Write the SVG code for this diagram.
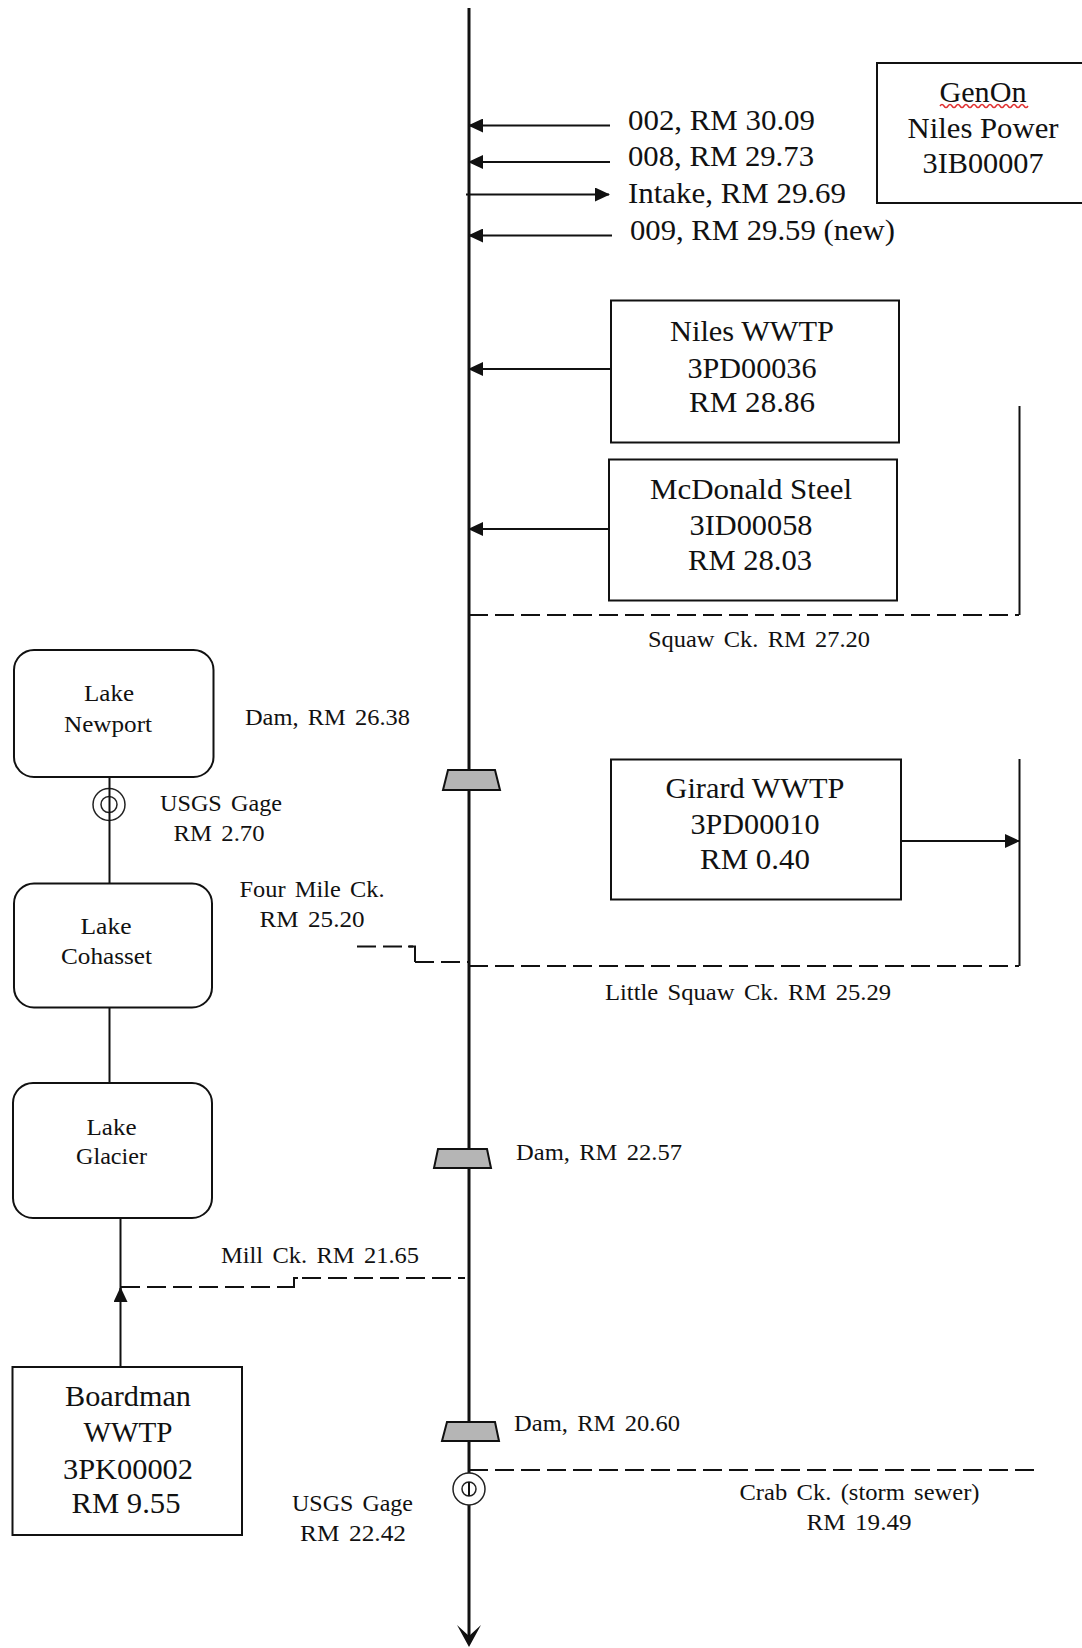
<svg xmlns="http://www.w3.org/2000/svg" width="1082" height="1648" viewBox="0 0 1082 1648">
<style>
text{font-family:"Liberation Serif","Times New Roman",serif;fill:#111;text-anchor:middle}
.st{text-anchor:start}
.b{font-size:30px}
.s{font-size:23px;word-spacing:3px}
.box{fill:#fff;stroke:#111;stroke-width:2}
.ln{fill:none;stroke:#111;stroke-width:2}
.main{fill:none;stroke:#111;stroke-width:3}
.d{fill:none;stroke:#111;stroke-width:2;stroke-dasharray:19 7}
.dam{fill:#b5b5b5;stroke:#111;stroke-width:2}
.ring{fill:#fff;stroke:#222;stroke-width:1.5}
</style>
<defs>
<marker id="a" markerWidth="15" markerHeight="14" refX="14" refY="7" orient="auto" markerUnits="userSpaceOnUse"><path d="M0 0L15 7L0 14Z" fill="#111"/></marker>
</defs>
<g id="connectors">
<path class="main" d="M469 8V1640"/>
<path d="M457 1625L469 1647L481 1625L469 1636Z" fill="#111"/>
<path class="ln" marker-end="url(#a)" d="M610 125.500H469"/>
<path class="ln" marker-end="url(#a)" d="M610 162H469"/>
<path class="ln" marker-end="url(#a)" d="M466 194.500H609"/>
<path class="ln" marker-end="url(#a)" d="M612 235.500H469"/>
<path class="ln" marker-end="url(#a)" d="M611 369H469"/>
<path class="ln" marker-end="url(#a)" d="M609 529H469"/>
<path class="ln" d="M1019.500 406V615"/>
<path class="d" d="M469 615H1019"/>
<path class="ln" d="M1019.500 759V966"/>
<path class="ln" marker-end="url(#a)" d="M901 841H1019"/>
<path class="d" d="M469 966H1019"/>
<path class="d" d="M357 946.500H413"/>
<path class="ln" d="M408 946.500H415V962"/>
<path class="d" d="M415 962H469"/>
<path class="ln" d="M109.500 777V884"/>
<path class="ln" d="M109.500 1007V1083"/>
<path class="ln" marker-end="url(#a)" d="M120.500 1367V1288"/>
<path class="ln" d="M120.500 1218V1290"/>
<path class="d" d="M121 1287H288"/>
<path class="ln" d="M288 1287H294V1278H298"/>
<path class="d" d="M302 1278H465"/>
<path class="d" d="M469 1470H1034"/>
</g>
<g id="genon">
<rect class="box" x="877" y="63" width="220" height="140"/>
<text class="b" x="983" y="102" textLength="87" lengthAdjust="spacingAndGlyphs">GenOn</text>
<path d="M940 106q2 -3 4 0t4 0t4 0t4 0t4 0t4 0t4 0t4 0t4 0t4 0t4 0t4 0t4 0t4 0t4 0t4 0t4 0t4 0t4 0t4 0t4 0t4 0" fill="none" stroke="#e03030" stroke-width="1.500"/>
<text class="b" x="983" y="138" textLength="151" lengthAdjust="spacingAndGlyphs">Niles Power</text>
<text class="b" x="983" y="173" textLength="121" lengthAdjust="spacingAndGlyphs">3IB00007</text>
</g>
<g id="outfalls">
<text class="b st" x="628" y="130" textLength="187" lengthAdjust="spacingAndGlyphs">002, RM 30.09</text>
<text class="b st" x="628" y="166" textLength="186" lengthAdjust="spacingAndGlyphs">008, RM 29.73</text>
<text class="b st" x="628" y="203" textLength="218" lengthAdjust="spacingAndGlyphs">Intake, RM 29.69</text>
<text class="b st" x="630" y="240" textLength="265" lengthAdjust="spacingAndGlyphs">009, RM 29.59 (new)</text>
</g>
<g id="niles-wwtp">
<rect class="box" x="611" y="300.500" width="288" height="142"/>
<text class="b" x="752" y="341" textLength="164" lengthAdjust="spacingAndGlyphs">Niles WWTP</text>
<text class="b" x="752" y="377.500" textLength="129" lengthAdjust="spacingAndGlyphs">3PD00036</text>
<text class="b" x="752" y="412" textLength="126" lengthAdjust="spacingAndGlyphs">RM 28.86</text>
</g>
<g id="mcdonald-steel">
<rect class="box" x="609" y="459.500" width="288" height="141"/>
<text class="b" x="751" y="498.500" textLength="202" lengthAdjust="spacingAndGlyphs">McDonald Steel</text>
<text class="b" x="751" y="535" textLength="123" lengthAdjust="spacingAndGlyphs">3ID00058</text>
<text class="b" x="750" y="570" textLength="124" lengthAdjust="spacingAndGlyphs">RM 28.03</text>
</g>
<g id="squaw"><text class="s" x="759" y="647" textLength="222" lengthAdjust="spacingAndGlyphs">Squaw Ck. RM 27.20</text></g>
<g id="lake-newport">
<rect class="box" x="14" y="650" width="199.500" height="127" rx="20"/>
<text class="s" x="109" y="701" textLength="50" lengthAdjust="spacingAndGlyphs">Lake</text>
<text class="s" x="108" y="732" textLength="88" lengthAdjust="spacingAndGlyphs">Newport</text>
</g>
<g id="dam-1">
<path class="dam" d="M448 770H495L500 790H443Z"/>
<text class="s" x="327.500" y="725" textLength="165" lengthAdjust="spacingAndGlyphs">Dam, RM 26.38</text>
</g>
<g id="gage-1">
<circle class="ring" cx="109" cy="804.500" r="16"/>
<circle class="ring" cx="109" cy="804.500" r="8"/>
<path class="ln" d="M109.500 788V821"/>
<text class="s" x="221" y="811" textLength="122" lengthAdjust="spacingAndGlyphs">USGS Gage</text>
<text class="s" x="219" y="841" textLength="91" lengthAdjust="spacingAndGlyphs">RM 2.70</text>
</g>
<g id="girard-wwtp">
<rect class="box" x="611" y="759.500" width="290" height="140"/>
<text class="b" x="755" y="797.500" textLength="179" lengthAdjust="spacingAndGlyphs">Girard WWTP</text>
<text class="b" x="755" y="834" textLength="129" lengthAdjust="spacingAndGlyphs">3PD00010</text>
<text class="b" x="755" y="869" textLength="110" lengthAdjust="spacingAndGlyphs">RM 0.40</text>
</g>
<g id="four-mile"><text class="s" x="312" y="897" textLength="145" lengthAdjust="spacingAndGlyphs">Four Mile Ck.</text><text class="s" x="312" y="927" textLength="105" lengthAdjust="spacingAndGlyphs">RM 25.20</text></g>
<g id="lake-cohasset">
<rect class="box" x="14" y="883.500" width="198" height="124" rx="20"/>
<text class="s" x="106" y="934" textLength="51" lengthAdjust="spacingAndGlyphs">Lake</text>
<text class="s" x="106.500" y="964" textLength="91" lengthAdjust="spacingAndGlyphs">Cohasset</text>
</g>
<g id="little-squaw"><text class="s" x="748" y="1000" textLength="286" lengthAdjust="spacingAndGlyphs">Little Squaw Ck. RM 25.29</text></g>
<g id="lake-glacier">
<rect class="box" x="13" y="1083" width="199" height="135" rx="20"/>
<text class="s" x="111.500" y="1135" textLength="50" lengthAdjust="spacingAndGlyphs">Lake</text>
<text class="s" x="111.500" y="1164" textLength="71" lengthAdjust="spacingAndGlyphs">Glacier</text>
</g>
<g id="dam-2">
<path class="dam" d="M438 1149H487L491 1168H434Z"/>
<text class="s" x="599" y="1160" textLength="166" lengthAdjust="spacingAndGlyphs">Dam, RM 22.57</text>
</g>
<g id="mill"><text class="s" x="320" y="1263" textLength="198" lengthAdjust="spacingAndGlyphs">Mill Ck. RM 21.65</text></g>
<g id="boardman-wwtp">
<rect class="box" x="12.500" y="1367" width="229.500" height="168"/>
<text class="b" x="128" y="1406" textLength="126" lengthAdjust="spacingAndGlyphs">Boardman</text>
<text class="b" x="128" y="1442" textLength="89" lengthAdjust="spacingAndGlyphs">WWTP</text>
<text class="b" x="128" y="1479" textLength="130" lengthAdjust="spacingAndGlyphs">3PK00002</text>
<text class="b" x="126" y="1513" textLength="109" lengthAdjust="spacingAndGlyphs">RM 9.55</text>
</g>
<g id="dam-3">
<path class="dam" d="M447 1422H495L499 1441H442Z"/>
<text class="s" x="597" y="1431" textLength="166" lengthAdjust="spacingAndGlyphs">Dam, RM 20.60</text>
</g>
<g id="gage-2">
<circle class="ring" cx="469" cy="1489" r="16"/>
<circle class="ring" cx="469" cy="1489" r="7"/>
<path class="ln" d="M469 1482V1496"/>
<text class="s" x="352.500" y="1511" textLength="121" lengthAdjust="spacingAndGlyphs">USGS Gage</text>
<text class="s" x="353" y="1541" textLength="106" lengthAdjust="spacingAndGlyphs">RM 22.42</text>
</g>
<g id="crab"><text class="s" x="859.500" y="1500" textLength="240" lengthAdjust="spacingAndGlyphs">Crab Ck. (storm sewer)</text><text class="s" x="859" y="1530" textLength="105" lengthAdjust="spacingAndGlyphs">RM 19.49</text></g>
</svg>
